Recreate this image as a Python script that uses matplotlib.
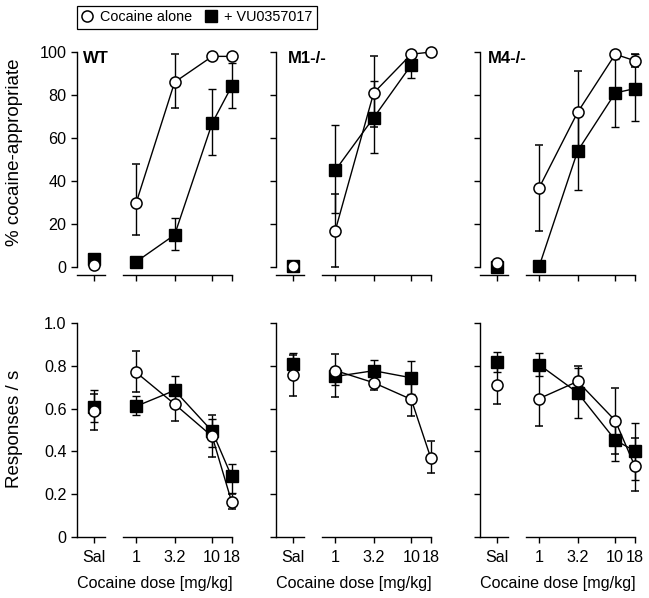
import numpy as np
import matplotlib
matplotlib.use("Agg")
import matplotlib.pyplot as plt
from matplotlib.lines import Line2D
from matplotlib.ticker import NullLocator

plt.rcParams['font.family'] = ['Liberation Sans', 'DejaVu Sans']

# x categories: saline, then cocaine doses (mg/kg)
doses = [1, 3.2, 10, 18]
dose_labels = ['Sal', '1', '3.2', '10', '18']
panels = ['WT', 'M1-/-', 'M4-/-']

# % cocaine-appropriate responding; one row per panel, columns = Sal, 1, 3.2, 10, 18
pct_alone = [[1, 30, 86, 98, 98],
             [0.5, 17, 81, 99, 100],
             [2, 37, 72, 99, 96]]
pct_alone_lo = [[1, 15, 74, 98, 98],
                [0.5, 0, 65, 99, 100],
                [2, 17, 54, 99, 93]]
pct_alone_hi = [[1, 48, 99, 98, 98],
                [0.5, 34, 98, 99, 100],
                [2, 57, 91, 99, 99]]
pct_drug = [[4, 2.5, 15, 67, 84],
            [0.5, 45, 69.5, 94, np.nan],
            [0, 0.5, 54, 81, 83]]
pct_drug_lo = [[4, 2.5, 8, 52, 74],
               [0.5, 25, 53, 88, np.nan],
               [0, 0.5, 36, 65, 68]]
pct_drug_hi = [[4, 2.5, 23, 83, 95],
               [0.5, 66, 86.5, 99, np.nan],
               [0, 0.5, 72, 97, 99]]

# response rate (responses / s)
rate_alone = [[0.587, 0.769, 0.621, 0.47, 0.165],
              [0.758, 0.778, 0.721, 0.643, 0.371],
              [0.709, 0.647, 0.727, 0.544, 0.333]]
rate_alone_lo = [[0.50, 0.676, 0.54, 0.372, 0.132],
                 [0.657, 0.654, 0.685, 0.564, 0.30],
                 [0.623, 0.518, 0.66, 0.39, 0.216]]
rate_alone_hi = [[0.67, 0.868, 0.70, 0.57, 0.20],
                 [0.85, 0.853, 0.757, 0.72, 0.448],
                 [0.795, 0.776, 0.797, 0.698, 0.464]]
rate_drug = [[0.607, 0.611, 0.685, 0.494, 0.283],
             [0.809, 0.75, 0.777, 0.744, np.nan],
             [0.817, 0.805, 0.674, 0.453, 0.402]]
rate_drug_lo = [[0.536, 0.569, 0.62, 0.42, 0.206],
                [0.76, 0.709, 0.725, 0.67, np.nan],
                [0.77, 0.75, 0.558, 0.355, 0.267]]
rate_drug_hi = [[0.685, 0.657, 0.751, 0.551, 0.343],
                [0.86, 0.79, 0.829, 0.822, np.nan],
                [0.864, 0.86, 0.79, 0.55, 0.535]]

SAL_X = 10 ** -0.553          # where saline sits on the log axis
xs = np.array([SAL_X] + doses)
FS = 11.6

fig = plt.figure(figsize=(6.49, 5.98), dpi=100, facecolor='white')
lefts = [0.1186, 0.4253, 0.7396]
W = 0.240
top_axes = [fig.add_axes([l, 0.540, W, 0.3873]) for l in lefts]
bot_axes = [fig.add_axes([l, 0.102, W, 0.3722]) for l in lefts]


def noclip(cont):
    for part in cont.lines:
        if part is None:
            continue
        items = part if isinstance(part, tuple) else (part,)
        for a in items:
            a.set_clip_on(False)


def draw(ax, m1, lo1, hi1, m2, lo2, hi2):
    m1, lo1, hi1 = map(np.asarray, (m1, lo1, hi1))
    m2, lo2, hi2 = map(np.asarray, (m2, lo2, hi2))
    sq = dict(marker='s', ms=8, mfc='black', mec='black', color='black', lw=1,
              ecolor='black', elinewidth=1, capsize=3, capthick=1)
    ci = dict(marker='o', ms=8, mfc='white', mec='black', mew=1.1, color='black', lw=1,
              ecolor='black', elinewidth=1, capsize=3, capthick=1)
    for m, lo, hi, st, z in [(m2, lo2, hi2, sq, 2), (m1, lo1, hi1, ci, 3)]:
        err = np.vstack([m - lo, hi - m])
        # saline point on its own
        c = ax.errorbar(xs[:1], m[:1], yerr=err[:, :1], linestyle='none', zorder=z, **st)
        noclip(c)
        ok = ~np.isnan(m[1:])
        c = ax.errorbar(xs[1:][ok], m[1:][ok], yerr=err[:, 1:][:, ok], zorder=z, **st)
        noclip(c)


def style(ax, show_xlabels, show_ylabels):
    ax.set_xscale('log')
    ax.set_xlim(10 ** -0.78, 10 ** 1.27)
    ax.xaxis.set_minor_locator(NullLocator())
    ax.set_xticks(xs)
    ax.set_xticklabels(dose_labels if show_xlabels else [])
    for s in ['top', 'right', 'bottom']:
        ax.spines[s].set_visible(False)
    ax.spines['left'].set_linewidth(1)
    ax.tick_params(axis='both', direction='out', width=1, labelsize=FS, colors='black')
    ax.tick_params(axis='x', length=4, pad=5)
    ax.tick_params(axis='y', length=4.5, pad=3)
    if not show_ylabels:
        ax.set_yticklabels([])
    tr = ax.get_xaxis_transform()
    # broken x axis: saline segment and dose segment
    ax.plot([10 ** -0.776, 10 ** -0.408], [0, 0], color='black', lw=1, transform=tr, clip_on=False)
    ax.plot([10 ** -0.171, 18], [0, 0], color='black', lw=1, transform=tr, clip_on=False)


for i, ax in enumerate(top_axes):
    draw(ax, pct_alone[i], pct_alone_lo[i], pct_alone_hi[i],
         pct_drug[i], pct_drug_lo[i], pct_drug_hi[i])
    ax.set_ylim(-3.7, 104)
    ax.set_yticks([0, 20, 40, 60, 80, 100])
    ax.spines['left'].set_bounds(0, 100)
    style(ax, False, i == 0)
    ax.text([0.04, 0.075, 0.05][i], 100.5, panels[i], transform=ax.get_yaxis_transform(),
            va='top', ha='left', fontsize=12, fontweight='bold')

for i, ax in enumerate(bot_axes):
    draw(ax, rate_alone[i], rate_alone_lo[i], rate_alone_hi[i],
         rate_drug[i], rate_drug_lo[i], rate_drug_hi[i])
    ax.set_ylim(0, 1.04)
    ax.set_yticks([0, 0.2, 0.4, 0.6, 0.8, 1.0])
    ax.set_yticklabels(['0', '0.2', '0.4', '0.6', '0.8', '1.0'] if i == 0 else [])
    ax.spines['left'].set_bounds(0, 1)
    style(ax, True, i == 0)
    ax.set_xlabel('Cocaine dose [mg/kg]', fontsize=FS, labelpad=8)

fig.text(0.023, 0.746, '% cocaine-appropriate', rotation=90, ha='center', va='center', fontsize=13.5)
fig.text(0.023, 0.283, 'Responses / s', rotation=90, ha='center', va='center', fontsize=13.5)

handles = [Line2D([], [], linestyle='none', marker='o', ms=8, mfc='white', mec='black', mew=1.1),
           Line2D([], [], linestyle='none', marker='s', ms=8, mfc='black', mec='black')]
leg = fig.legend(handles, ['Cocaine alone', '+ VU0357017'], loc='upper left',
                 bbox_to_anchor=(77 / 649, 1 - 6 / 598), ncol=2, frameon=True, fancybox=False,
                 edgecolor='black', framealpha=1, fontsize=10.4, borderpad=0.3,
                 handlelength=0.8, handletextpad=0.5, columnspacing=0.9, borderaxespad=0)
leg.get_frame().set_linewidth(0.9)

fig.savefig('out.png', dpi=100, facecolor='white')
